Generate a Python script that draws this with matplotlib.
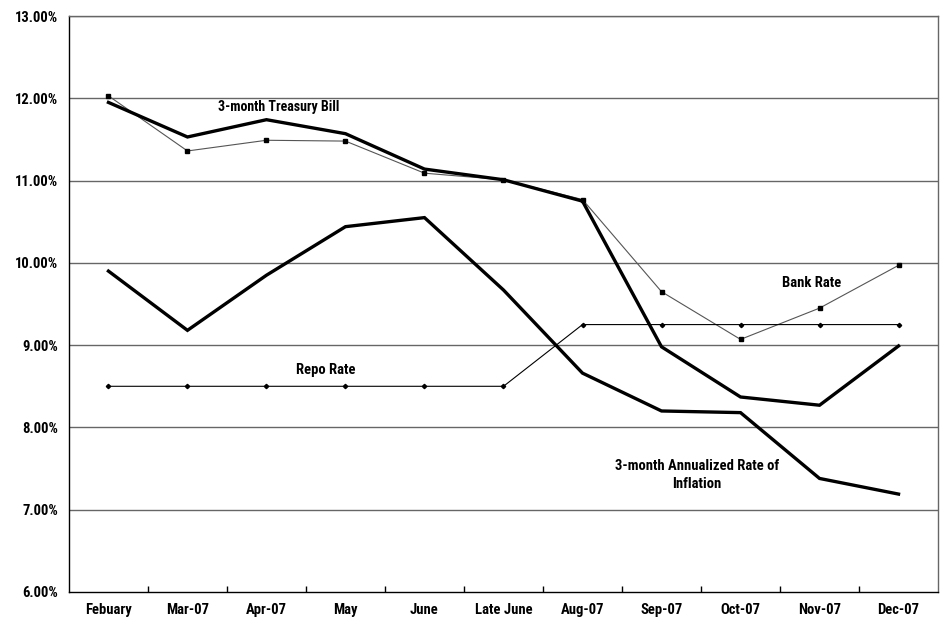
import matplotlib.pyplot as plt
from matplotlib.ticker import FuncFormatter

months = ['Febuary', 'Mar-07', 'Apr-07', 'May', 'June', 'Late June',
          'Aug-07', 'Sep-07', 'Oct-07', 'Nov-07', 'Dec-07']

# 3-month treasury bill (thick)
tbill = [11.95, 11.53, 11.74, 11.57, 11.14, 11.01, 10.75, 8.98, 8.37, 8.27, 8.99]
# bank rate (thin, square markers)
bank_rate = [12.03, 11.36, 11.49, 11.48, 11.09, 11.01, 10.77, 9.65, 9.07, 9.45, 9.97]
# repo rate (thin, small diamonds)
repo_rate = [8.50, 8.50, 8.50, 8.50, 8.50, 8.50, 9.25, 9.25, 9.25, 9.25, 9.25]
# 3-month annualized rate of inflation (thick)
inflation = [9.90, 9.18, 9.85, 10.44, 10.55, 9.67, 8.66, 8.20, 8.18, 7.38, 7.19]

plt.rcParams['font.family'] = ['Roboto Condensed', 'DejaVu Sans']
plt.rcParams['font.weight'] = 'bold'

fig = plt.figure(figsize=(9.42, 6.21), dpi=100)
ax = fig.add_axes([0.0732, 0.0467, 0.9226, 0.9275])

x = list(range(len(months)))

for yv in range(7, 14):
    ax.axhline(yv, color='#666666', lw=1.0, zorder=1)

ax.plot(x, bank_rate, color='#555555', lw=0.8, marker='s', ms=3.2,
        mfc='black', mec='black', zorder=3)
ax.plot(x, repo_rate, color='black', lw=0.8, marker='D', ms=2.2,
        mfc='black', mec='black', zorder=3)
ax.plot(x, tbill, color='black', lw=2.4, zorder=4, solid_joinstyle='miter')
ax.plot(x, inflation, color='black', lw=2.4, zorder=4, solid_joinstyle='miter')

fs = 10.5
ax.text(2.15, 11.9, '3-month Treasury Bill', ha='center', va='center', fontsize=10)
ax.text(8.9, 9.75, 'Bank Rate', ha='center', va='center', fontsize=fs)
ax.text(2.75, 8.7, 'Repo Rate', ha='center', va='center', fontsize=fs)
ax.text(7.45, 7.42, '3-month Annualized Rate of\nInflation', ha='center',
        va='center', fontsize=fs, linespacing=1.4)

ax.set_xlim(-0.5, len(months) - 0.5)
ax.set_ylim(6, 13)
ax.set_yticks(range(6, 14))
ax.yaxis.set_major_formatter(FuncFormatter(lambda v, p: f'{v:.2f}%'))
ax.tick_params(axis='y', length=0, pad=8, labelsize=fs)

ax.set_xticks(x)
ax.set_xticklabels(months)
ax.set_xticks([i + 0.5 for i in x[:-1]], minor=True)
ax.tick_params(axis='x', which='major', length=0, pad=8, labelsize=fs)
ax.tick_params(axis='x', which='minor', direction='in', length=4, width=1)

for s in ax.spines.values():
    s.set_color('black')
    s.set_linewidth(1.0)
ax.spines['top'].set_color('#666666')
ax.spines['right'].set_color('#666666')

fig.savefig('out.png', dpi=100)
